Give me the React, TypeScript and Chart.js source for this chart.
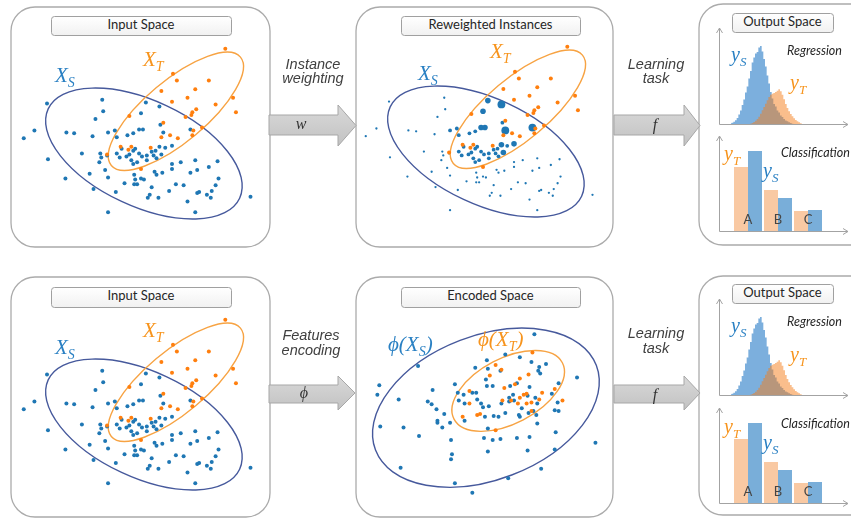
import React, { useEffect, useRef } from "react";
import { Chart, registerables } from "chart.js";
Chart.register(...registerables);

// ---------------- data ----------------
// Input space: source instances (blue) and target instances (orange)
const srcX = [89,32,134,148,90,129,82,19,8,52,60,79,95,102,104,115,121,127,131,149,152,180,33,68,87,88,86,94,104,109,114,117,121,123,119,121,125,127,135,144,148,150,154,161,145,135,161,170,185,208,199,187,180,209,206,202,201,197,189,187,177,185,165,151,143,145,132,129,122,123,122,125,112,140,138,136,147,158,161,103,80,76,51,92,95,95,242,130,140,142,107,173];
const srcY = [147,143,144,140,135,133,127,115,107,113,112,109,113,115,108,110,112,116,116,121,113,116,85,91,91,87,82,89,91,96,88,90,94,96,84,80,82,91,89,94,98,90,97,99,86,84,80,82,84,83,77,74,71,65,58,52,45,48,51,50,41,30,59,71,72,69,64,65,69,64,59,59,60,56,48,45,45,52,75,51,54,70,65,74,66,30,46,88,93,89,87,58];
// instance weights (1 = low ... 4 = high)
const srcW = [1,1,3,4,1,3,1,1,1,1,1,1,2,2,2,2,2,3,3,2,4,4,1,1,1,1,1,1,2,2,2,2,2,2,2,2,2,2,2,2,3,3,2,3,2,2,1,1,1,1,1,1,1,1,1,1,1,1,1,1,1,1,1,1,1,1,1,1,1,1,1,1,1,1,1,1,1,1,1,1,1,1,1,1,1,1,1,2,2,2,2,1];
const tgtX = [216,162,166,199,150,185,177,161,206,224,186,182,181,227,117,175,152,192,183,182,150,159,167,108,116,119,139,94,129];
const tgtY = [200,174,167,167,156,158,149,145,142,149,137,134,131,134,130,129,123,118,115,110,108,110,107,98,95,98,97,90,75];

// Encoded space
const encSrcX = [183,63,134,153,168,180,122,135,188,195,187,189,148,133,227,23,21,43,78,101,104,110,119,123,124,134,140,158,165,178,161,157,162,157,149,176,184,186,201,208,207,204,208,73,77,82,90,105,111,128,130,136,132,141,146,153,168,170,177,182,186,185,167,83,83,96,88,48,24,64,111,131,135,140,148,165,178,205,135,176,204,246,97,98,97,45,190,156,101,119];
const encSrcY = [185,152,158,164,161,156,150,149,151,154,147,144,147,138,140,132,122,117,127,133,124,122,124,124,117,131,131,131,134,130,122,119,116,115,113,121,119,113,123,134,114,106,105,115,112,107,102,116,113,113,109,110,99,100,99,103,99,108,103,105,92,101,101,95,93,93,88,88,89,79,95,77,87,75,76,77,78,83,63,64,65,72,75,60,55,46,45,35,30,20];
const encTgtX = [181,143,149,137,168,177,163,116,152,204,191,172,175,168,150,188,212,180,159,166,180,127,124,116,109,143,175];
const encTgtY = [166,153,148,142,139,143,133,126,129,128,124,122,123,119,116,117,116,114,116,113,105,102,101,113,99,85,113];

// Ellipses: [centerX, centerY, semiMajor, semiMinor, angleDeg]
const ellInputS = [132, 91, 109, 55, -25];
const ellInputT = [165, 135, 87, 32, 40];
const ellEncS = [133, 108.5, 122, 75, 21];
const ellEncT = [156, 126, 63, 34, 27.5];

// Output space: regression histograms
const regBins = [0,1,2,3,4,5,6,7,8,9,10,11,12,13,14,15,16,17,18,19,20,21,22,23,24,25,26,27,28,29,30,31,32,33,34,35,36,37,38,39,40,41,42,43];
const regS = [0.7,1.3,2.3,3.7,6,9.5,13.5,19,24.5,31.5,37.5,45.5,53,61.5,66.5,70.5,72,76.5,78,72.5,65,57.5,48.5,40.5,32,25.5,20,17.5,13.5,11.5,8.5,7,5,3.5,2.7,1.7,1,0.3,0,0,0,0,0,0];
const regT = [0,0,0,0,0,0,0,0,0,0,0,0,0.3,1,2,3.3,5,7.3,10.3,13.7,17,20.3,23.7,27,29.3,30.3,31,32,33.3,34.7,32.7,29.3,24.7,20,16,12.7,10,7.7,5.7,4,2.7,1.7,0.7,0];

// Output space: classification
const classes = ["A", "B", "C"];
const classT = [64, 41, 20];
const classS = [80, 33, 21];

// ---------------- styles ----------------
const BLUE = "#1f77b4";
const ORANGE = "#ff7f0e";
const ELL_BLUE = "#46599c";
const ELL_ORANGE = "#f7a343";
const LBL_BLUE = "#2a80c3";
const LBL_ORANGE = "#f7941d";
const MATH = "'Liberation Serif', 'DejaVu Serif', serif";
const SANS = "Lato, 'Noto Sans', sans-serif";
const ARIAL = "'Liberation Sans', Arial, sans-serif";
const DOT = 2.0;
const WEIGHT_RADIUS = [0, 1.15, 1.9, 2.8, 3.9];

const baseOptions = (extra: any) => ({
  responsive: false,
  animation: false,
  events: [],
  plugins: { legend: { display: false }, tooltip: { enabled: false }, title: { display: false } },
  ...extra,
});

const ellipsePlugin = (list: { e: number[]; color: string }[]) => ({
  id: "ellipses",
  beforeDatasetsDraw(chart: any) {
    const { ctx } = chart;
    const xs = chart.scales.x;
    const ys = chart.scales.y;
    const sx = Math.abs(xs.getPixelForValue(1) - xs.getPixelForValue(0));
    const sy = Math.abs(ys.getPixelForValue(1) - ys.getPixelForValue(0));
    list.forEach(({ e, color }) => {
      const [cx, cy, a, b, ang] = e;
      ctx.save();
      ctx.beginPath();
      ctx.ellipse(xs.getPixelForValue(cx), ys.getPixelForValue(cy), a * sx, b * sy, (-ang * Math.PI) / 180, 0, Math.PI * 2);
      ctx.strokeStyle = color;
      ctx.lineWidth = 1.4;
      ctx.stroke();
      ctx.restore();
    });
  },
});

const axesPlugin = {
  id: "arrowAxes",
  afterDraw(chart: any) {
    const { ctx } = chart;
    const xs = chart.scales.x;
    const ys = chart.scales.y;
    const left = Math.round(xs.left) + 0.5;
    const right = xs.right;
    const top = ys.top;
    const bottom = Math.round(ys.getPixelForValue(0)) + 0.5;
    ctx.save();
    ctx.strokeStyle = "#a3a3a3";
    ctx.lineWidth = 1;
    ctx.beginPath();
    ctx.moveTo(left, bottom);
    ctx.lineTo(left, top);
    ctx.moveTo(left, bottom);
    ctx.lineTo(right, bottom);
    ctx.moveTo(left - 3, top + 5);
    ctx.lineTo(left, top);
    ctx.lineTo(left + 3, top + 5);
    ctx.moveTo(right - 5, bottom - 3);
    ctx.lineTo(right, bottom);
    ctx.lineTo(right - 5, bottom + 3);
    ctx.stroke();
    ctx.restore();
  },
};

const classLabelPlugin = {
  id: "classLabels",
  afterDatasetsDraw(chart: any) {
    const { ctx } = chart;
    const xs = chart.scales.x;
    const ys = chart.scales.y;
    ctx.save();
    ctx.fillStyle = "#454545";
    ctx.font = "13px Lato, 'Noto Sans', sans-serif";
    ctx.textAlign = "center";
    ctx.textBaseline = "alphabetic";
    classes.forEach((c, i) => {
      ctx.fillText(c, xs.getPixelForValue(i + 1), ys.getPixelForValue(0) - 7);
    });
    ctx.restore();
  },
};

function scatterCfg(W: number, H: number, bx: number[], by: number[], bRadius: any, ox: number[], oy: number[], ells: { e: number[]; color: string }[]) {
  return {
    type: "scatter",
    data: {
      datasets: [
        {
          data: ox.map((x, i) => ({ x, y: oy[i] })),
          pointBackgroundColor: ORANGE,
          pointBorderWidth: 0,
          pointRadius: DOT,
          clip: false,
        },
        {
          data: bx.map((x, i) => ({ x, y: by[i] })),
          pointBackgroundColor: BLUE,
          pointBorderWidth: 0,
          pointRadius: bRadius,
          clip: false,
        },
      ],
    },
    options: baseOptions({
      layout: { padding: 0 },
      scales: {
        x: { type: "linear", display: false, min: 0, max: W },
        y: { type: "linear", display: false, min: 0, max: H },
      },
    }),
    plugins: [ellipsePlugin(ells)],
  };
}

function histCfg() {
  const common = { stepped: "middle", fill: "origin", borderWidth: 0, borderColor: "rgba(0,0,0,0)", pointRadius: 0, tension: 0 };
  return {
    type: "line",
    data: {
      datasets: [
        { ...common, data: regBins.map((b, i) => ({ x: b, y: regT[i] })), backgroundColor: "rgba(245,125,25,0.5)" },
        { ...common, data: regBins.map((b, i) => ({ x: b, y: regS[i] })), backgroundColor: "rgba(91,155,213,0.8)" },
      ],
    },
    options: baseOptions({
      layout: { padding: { left: 7, right: 3, top: 8, bottom: 6 } },
      scales: {
        x: { type: "linear", display: false, min: -7.1, max: 70.3 },
        y: { type: "linear", display: false, min: 0, max: 96 },
      },
    }),
    plugins: [axesPlugin],
  };
}

function classCfg() {
  const common = { barPercentage: 1, categoryPercentage: 0.933, borderWidth: 0 };
  return {
    type: "bar",
    data: {
      datasets: [
        { ...common, data: classes.map((c, i) => ({ x: i + 1, y: classT[i] })), backgroundColor: "#f9c9a3" },
        { ...common, data: classes.map((c, i) => ({ x: i + 1, y: classS[i] })), backgroundColor: "#79aed9" },
      ],
    },
    options: baseOptions({
      layout: { padding: { left: 7, right: 3, top: 8, bottom: 7 } },
      scales: {
        x: { type: "linear", display: false, min: 0.033, max: 4.333, offset: false },
        y: { type: "linear", display: false, min: 0, max: 95 },
      },
    }),
    plugins: [axesPlugin, classLabelPlugin],
  };
}

function ChartBox(props: { left: number; top: number; width: number; height: number; build: () => any }) {
  const ref = useRef<HTMLCanvasElement | null>(null);
  useEffect(() => {
    if (!ref.current) return;
    const chart = new Chart(ref.current, props.build());
    return () => chart.destroy();
  }, []);
  return (
    <canvas
      ref={ref}
      width={props.width}
      height={props.height}
      style={{ position: "absolute", left: props.left, top: props.top, width: props.width, height: props.height }}
    />
  );
}

function MathLabel(p: { x: number; y: number; pre?: string; main: string; sub: string; tail?: string; color: string; size?: number }) {
  const size = p.size ?? 21;
  const sub = Math.round(size * 0.66);
  const d = size * 0.24;
  return (
    <text x={p.x} y={p.y} fill={p.color} fontFamily={MATH} fontStyle="italic" fontSize={size}>
      {(p.pre ?? "") + p.main}
      <tspan fontSize={sub} dy={d}>{p.sub}</tspan>
      {p.tail ? <tspan fontSize={size} dy={-d}>{p.tail}</tspan> : null}
    </text>
  );
}

function Arrow(p: { x0: number; x1: number; x2: number; b0: number; b1: number; h0: number; h1: number }) {
  const mid = (p.h0 + p.h1) / 2;
  const pts = `${p.x0},${p.b0} ${p.x1},${p.b0} ${p.x1},${p.h0} ${p.x2},${mid} ${p.x1},${p.h1} ${p.x1},${p.b1} ${p.x0},${p.b1}`;
  return <polygon points={pts} fill="url(#arrowGrad)" stroke="#a7a7a7" strokeWidth={1} />;
}

function TitleBox(p: { x: number; y: number; w: number; h: number; text: string; base: number }) {
  return (
    <g>
      <rect x={p.x + 0.5} y={p.y + 0.5} width={p.w} height={p.h} rx={3} fill="url(#boxGrad)" stroke="#a0a0a0" strokeWidth={1} />
      <text x={p.x + p.w / 2} y={p.base} textAnchor="middle" fontFamily={SANS} fontSize={13} fill="#262626">{p.text}</text>
    </g>
  );
}

function Panel(p: { x: number; y: number; w: number; h: number }) {
  return <rect x={p.x} y={p.y} width={p.w} height={p.h} rx={24} fill="#fff" stroke="#ababab" strokeWidth={1.3} />;
}

const radiusByWeight = (ctx: any) => WEIGHT_RADIUS[srcW[ctx.dataIndex]] ?? 1;

export default function App() {
  return (
    <div style={{ position: "absolute", left: 0, top: 0, width: 851, height: 519, overflow: "hidden", background: "#fff" }}>
      <svg width={851} height={519} style={{ position: "absolute", left: 0, top: 0 }}>
        <defs>
          <linearGradient id="arrowGrad" x1="0" y1="0" x2="0" y2="1">
            <stop offset="0" stopColor="#d9d9d9" />
            <stop offset="1" stopColor="#c2c2c2" />
          </linearGradient>
          <linearGradient id="boxGrad" x1="0" y1="0" x2="0" y2="1">
            <stop offset="0" stopColor="#ffffff" />
            <stop offset="1" stopColor="#f1f1f1" />
          </linearGradient>
        </defs>
        <Panel x={11} y={7} w={259} h={240} />
        <Panel x={356} y={7} w={257} h={240} />
        <Panel x={699} y={4} w={175} h={241} />
        <Panel x={11} y={277} w={259} h={240} />
        <Panel x={356} y={277} w={257} h={240} />
        <Panel x={699} y={276} w={175} h={239} />

        <TitleBox x={51} y={16} w={180} h={19} text="Input Space" base={29} />
        <TitleBox x={401} y={16} w={179} h={19} text="Reweighted Instances" base={29} />
        <TitleBox x={732} y={13} w={101} h={19} text="Output Space" base={26} />
        <TitleBox x={51} y={287} w={180} h={20} text="Input Space" base={300} />
        <TitleBox x={401} y={287} w={179} h={20} text="Encoded Space" base={300} />
        <TitleBox x={732} y={284} w={101} h={19} text="Output Space" base={297} />

        <Arrow x0={269} x1={338} x2={356} b0={115} b1={135} h0={105} h1={146} />
        <Arrow x0={614} x1={684} x2={700} b0={115} b1={135} h0={105} h1={146} />
        <Arrow x0={269} x1={338} x2={355} b0={385} b1={403} h0={376} h1={410} />
        <Arrow x0={614} x1={684} x2={700} b0={385} b1={403} h0={376} h1={410} />
      </svg>

      <ChartBox left={12} top={40} width={258} height={205}
        build={() => scatterCfg(258, 205, srcX, srcY, DOT, tgtX, tgtY, [{ e: ellInputS, color: ELL_BLUE }, { e: ellInputT, color: ELL_ORANGE }])} />
      <ChartBox left={354} top={38} width={258} height={205}
        build={() => scatterCfg(258, 205, srcX, srcY, radiusByWeight, tgtX, tgtY, [{ e: ellInputS, color: ELL_BLUE }, { e: ellInputT, color: ELL_ORANGE }])} />
      <ChartBox left={12} top={311} width={258} height={205}
        build={() => scatterCfg(258, 205, srcX, srcY, DOT, tgtX, tgtY, [{ e: ellInputS, color: ELL_BLUE }, { e: ellInputT, color: ELL_ORANGE }])} />
      <ChartBox left={353} top={311} width={260} height={205}
        build={() => scatterCfg(260, 205, encSrcX, encSrcY, DOT, encTgtX, encTgtY, [{ e: ellEncS, color: ELL_BLUE }, { e: ellEncT, color: ELL_ORANGE }])} />

      <ChartBox left={712} top={20} width={139} height={110} build={histCfg} />
      <ChartBox left={712} top={128} width={139} height={110} build={classCfg} />
      <ChartBox left={712} top={291} width={139} height={110} build={histCfg} />
      <ChartBox left={712} top={400} width={139} height={110} build={classCfg} />

      <svg width={851} height={519} style={{ position: "absolute", left: 0, top: 0, pointerEvents: "none" }}>
        {/* input space labels */}
        <MathLabel x={55} y={82} main="X" sub="S" color={LBL_BLUE} />
        <MathLabel x={143} y={66} main="X" sub="T" color={LBL_ORANGE} />
        <MathLabel x={418} y={80} main="X" sub="S" color={LBL_BLUE} />
        <MathLabel x={490} y={58} main="X" sub="T" color={LBL_ORANGE} />
        <MathLabel x={55} y={354} main="X" sub="S" color={LBL_BLUE} />
        <MathLabel x={143} y={337} main="X" sub="T" color={LBL_ORANGE} />
        <MathLabel x={388} y={351} pre={"\u03D5("} main="X" sub="S" tail=")" color={LBL_BLUE} />
        <MathLabel x={478} y={346} pre={"\u03D5("} main="X" sub="T" tail=")" color={LBL_ORANGE} />

        {/* arrow captions */}
        <g fontFamily={ARIAL} fontStyle="italic" fontSize={14.5} fill="#404040" textAnchor="middle">
          <text x={313} y={69}>Instance</text>
          <text x={313} y={83}>weighting</text>
          <text x={656} y={69}>Learning</text>
          <text x={656} y={83}>task</text>
          <text x={311} y={340}>Features</text>
          <text x={311} y={355}>encoding</text>
          <text x={656} y={338}>Learning</text>
          <text x={656} y={353}>task</text>
        </g>
        <g fontFamily={MATH} fontStyle="italic" fontSize={16} fill="#333" textAnchor="middle">
          <text x={301} y={129}>w</text>
          <text x={655} y={130}>f</text>
          <text x={304} y={398}>{"\u03D5"}</text>
          <text x={655} y={400}>f</text>
        </g>

        {/* output space texts */}
        <g fontFamily={SANS} fontStyle="italic" fontSize={12.5} fill="#262626">
          <text x={787} y={55}>Regression</text>
          <text x={781} y={157}>Classification</text>
          <text x={787} y={326}>Regression</text>
          <text x={781} y={428}>Classification</text>
        </g>
        <MathLabel x={731} y={61} main="y" sub="S" color={LBL_BLUE} size={20} />
        <MathLabel x={790} y={89} main="y" sub="T" color={LBL_ORANGE} size={20} />
        <MathLabel x={724} y={160} main="y" sub="T" color={LBL_ORANGE} size={20} />
        <MathLabel x={763} y={177} main="y" sub="S" color={LBL_BLUE} size={20} />
        <MathLabel x={731} y={332} main="y" sub="S" color={LBL_BLUE} size={20} />
        <MathLabel x={790} y={361} main="y" sub="T" color={LBL_ORANGE} size={20} />
        <MathLabel x={724} y={433} main="y" sub="T" color={LBL_ORANGE} size={20} />
        <MathLabel x={763} y={449} main="y" sub="S" color={LBL_BLUE} size={20} />
      </svg>
    </div>
  );
}
